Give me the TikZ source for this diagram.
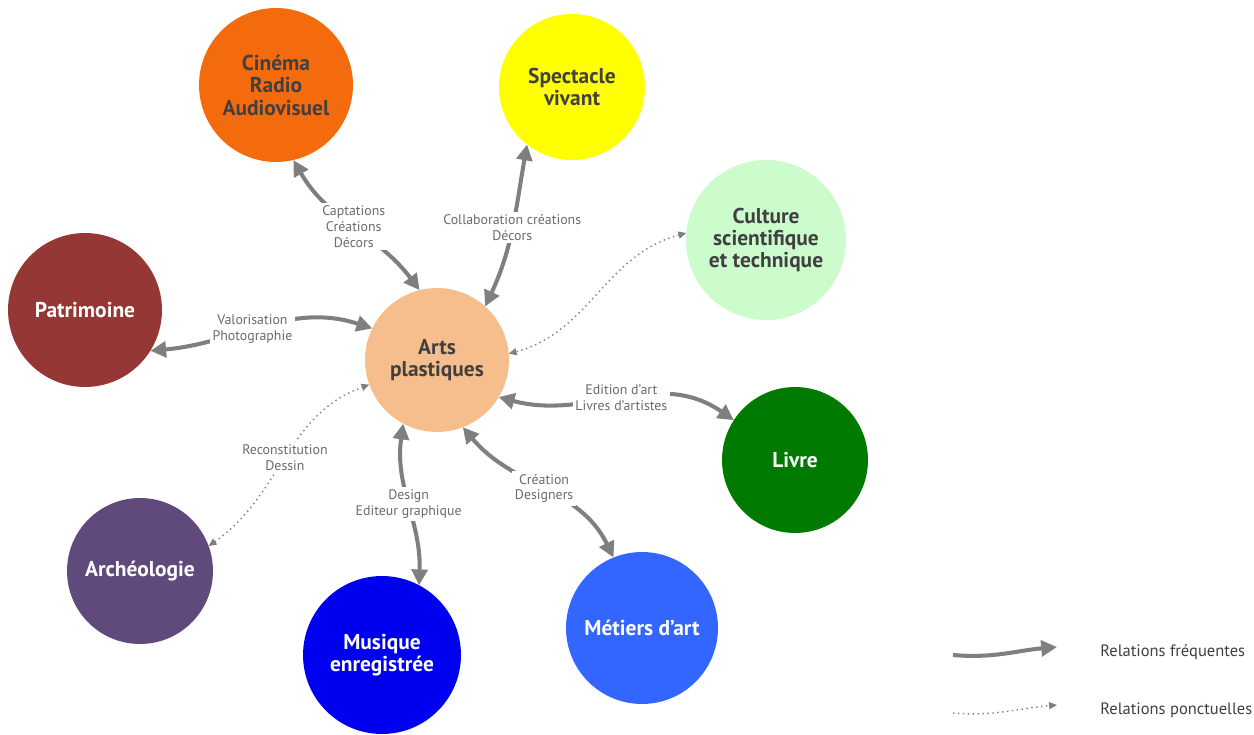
\documentclass[tikz,border=0pt]{standalone}
\usepackage{fontspec}
\setmainfont{PT Sans}
\usetikzlibrary{arrows.meta}
\definecolor{cincol}{HTML}{F46B0E}
\definecolor{speccol}{HTML}{FFFF00}
\definecolor{cultcol}{HTML}{CCFBCC}
\definecolor{patcol}{HTML}{953735}
\definecolor{artscol}{HTML}{F7BE8D}
\definecolor{livrecol}{HTML}{007A00}
\definecolor{archcol}{HTML}{604A7B}
\definecolor{muscol}{HTML}{0000F0}
\definecolor{metcol}{HTML}{3366FF}
\definecolor{linegray}{HTML}{7F7F7F}
\definecolor{lblgray}{HTML}{6B6B6B}
\definecolor{darktext}{HTML}{404040}
\begin{document}
\begin{tikzpicture}[x=0.02cm,y=0.02cm,
  circ/.style={circle, inner sep=0pt, outer sep=0pt, align=center,
    font=\fontsize{12.2}{12.8}\selectfont\bfseries},
  dk/.style={text=darktext},
  wt/.style={text=white},
  freq/.style={draw=linegray, line width=2.3pt,
    {Triangle[length=9pt,width=9pt]}-{Triangle[length=9pt,width=9pt]}},
  ponc/.style={draw=linegray, line width=0.8pt, dotted,
    {Triangle[length=4.5pt,width=4pt]}-{Triangle[length=4.5pt,width=4pt]}},
  lbl/.style={fill=white, text=lblgray, align=center, inner sep=1.5pt,
    font=\fontsize{7.9}{9}\selectfont},
  legtext/.style={anchor=west, inner sep=0pt, text=darktext, font=\fontsize{9.4}{11}\selectfont},
]
\useasboundingbox (0,0) rectangle (1254,734);

% circles
\node[circ, dk, fill=cincol,   minimum size=3.08cm] (cin)   at (276,649) {Cinéma\\Radio\\Audiovisuel};
\node[circ, dk, fill=speccol,  minimum size=2.92cm] (spec)  at (572,647) {Spectacle\\vivant};
\node[circ, dk, fill=cultcol,  minimum size=3.20cm] (cult)  at (766,494) {Culture\\scientifique\\et technique};
\node[circ, wt, fill=patcol,   minimum size=3.08cm] (pat)   at (85,424)  {Patrimoine};
\node[circ, dk, fill=artscol,  minimum size=2.88cm] (arts)  at (437,374) {Arts\\plastiques};
\node[circ, wt, fill=livrecol, minimum size=2.92cm] (livre) at (795,274) {Livre};
\node[circ, wt, fill=archcol,  minimum size=2.92cm] (arch)  at (140,163) {Archéologie};
\node[circ, wt, fill=muscol,   minimum size=3.16cm] (mus)   at (382,79)  {Musique\\enregistrée};
\node[circ, wt, fill=metcol,   minimum size=3.04cm] (met)   at (642,106) {Métiers d'art};

% connectors
\draw[freq] (cin.-77) to[out=-60,in=127]
  node[lbl]{Captations\\Créations\\Décors} (arts.104);
\draw[freq] (spec.-128) to[out=-100,in=65]
  node[lbl]{Collaboration créations\\Décors} (arts.48);
\draw[ponc] (cult.175) to[out=195,in=15] (arts.5);
\draw[freq] (pat.-32) to[out=5,in=162]
  node[lbl,pos=0.45]{Valorisation\\Photographie} (arts.154);
\draw[freq] (arts.-31) to[out=-15,in=145]
  node[lbl]{Edition d'art\\Livres d'artistes} (livre.147);
\draw[freq] (arts.-69) to[out=-50,in=116]
  node[lbl]{Création\\Designers} (met.112);
\draw[freq] (arts.-118) to[out=-98,in=88]
  node[lbl]{Design\\Editeur graphique} (mus.62);
\draw[ponc] (arch.20) to[out=35,in=200]
  node[lbl]{Reconstitution\\Dessin} (arts.200);

% legend
\coordinate (a1) at (953,79);
\coordinate (a2) at (1057,87);
\draw[draw=linegray, line width=2.3pt, -{Triangle[length=9pt,width=9pt]}]
  (a1) to[out=-5,in=185] (a2);
\node[legtext] (t1) at (1100,82) {Relations fréquentes};
\coordinate (b1) at (953,21);
\coordinate (b2) at (1057,29);
\draw[draw=linegray, line width=0.8pt, dotted, -{Triangle[length=4.5pt,width=4pt]}]
  (b1) to[out=-5,in=185] (b2);
\node[legtext] (t2) at (1100,24) {Relations ponctuelles};
\end{tikzpicture}
\end{document}
